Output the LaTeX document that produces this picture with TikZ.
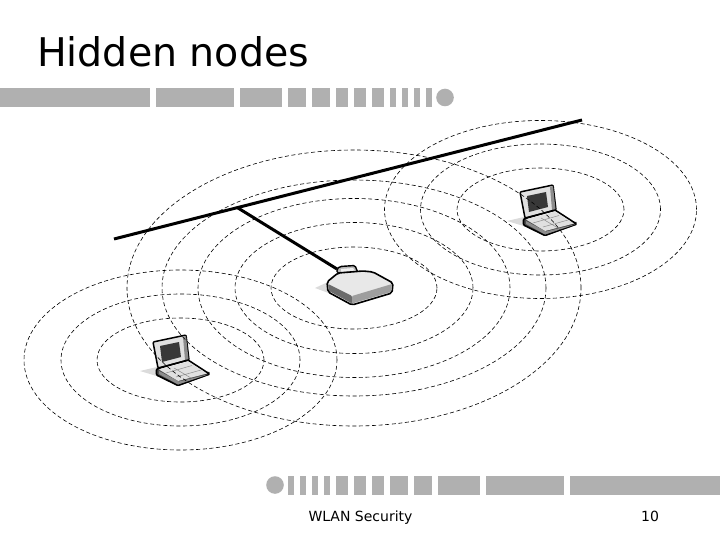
\documentclass[tikz,border=0pt]{standalone}
\usepackage{fontspec}
\setmainfont{DejaVu Sans}
\definecolor{barGray}{HTML}{B0B0B0}
\tikzset{
  laptop/.pic={
    \fill[black!14] (-40,11) -- (-23,7) -- (-20,17) -- cycle;
    % lid
    \draw[black,line width=1.5pt,line join=round,rounded corners=1pt,fill=black!12] (-27,-18) -- (6,-25) -- (9,0) -- (-22,8) -- cycle;
    \fill[black!45] (3,-23) -- (6,-24) -- (8.5,-1) -- (5,0) -- cycle;
    \fill[black!78] (-20,-14) -- (-1,-18) -- (1,-3) -- (-18,2) -- cycle;
    % base
    \fill[black!70] (-23.5,9) -- (-23.5,15) -- (-2,26) -- (29.5,15) -- (29.5,12) -- cycle;
    \draw[black,line width=1.6pt,line join=round,rounded corners=1pt] (-23.5,9) -- (8,0) -- (29.5,14) -- (-2,25.5) -- (-23.5,15) -- cycle;
    \fill[black!12] (-21,9.5) -- (8,1.5) -- (27,13.5) -- (-2,21) -- cycle;
    \fill[black!45] (-1,21.5) -- (27,14.5) -- (28,14.5) -- (-2,24.5) -- (-21,14) -- (-21,11) -- cycle;
    \draw[black!45,line width=.5pt] (-14,13) -- (12,5.5) (-4,17) -- (21,10) (-6,8) -- (11,18);
  },
  accesspoint/.pic={
    \fill[black!14] (-45,1) -- (-32,-5) -- (-30,5) -- (-18,11) -- cycle;
    \draw[black,line width=1.4pt,line join=round,rounded corners=1.5pt,fill=black!28] (-23,-14) -- (-23,-18) -- (-20,-20.5) -- (-5,-21.5) -- (-2,-14) -- cycle;
    \fill[black!6] (-19,-18) -- (-7,-19) -- (-5,-16) -- (-19,-15) -- cycle;
    \draw[black,line width=1.6pt,line join=round,rounded corners=2pt,fill=black!9] (-33,-5) -- (-22,-14) -- (3,-16) -- (13,-15) -- (33,-4) -- (32,6) -- (-8,18) -- (-32,5) -- cycle;
    \fill[black!58,rounded corners=1pt] (-32,-3) -- (-8,9) -- (-8,16.5) -- (-31,4) -- cycle;
    \fill[black!38,rounded corners=1pt] (-8,9) -- (32,-3) -- (31,5) -- (-8,16.5) -- cycle;
  }
}
\begin{document}
\begin{tikzpicture}[x=1pt,y=-1pt]
    \tikzstyle{ring}=[draw=black,line width=.6pt,dash pattern=on 4pt off 2.6pt]
    \tikzstyle{cable}=[draw=black,line width=3pt]
    \tikzstyle{bar}=[fill=barGray]
    \useasboundingbox[fill=white] (0,0) rectangle (720,540);
    % title and footer
    \node [font=\fontsize{39.5}{44}\selectfont,anchor=base west,inner sep=0pt] (title) at (37,67) {Hidden nodes};
    \node [font=\fontsize{14}{16}\selectfont,anchor=base,inner sep=0pt] (footer) at (360.5,521) {WLAN Security};
    \node [font=\fontsize{14}{16}\selectfont,anchor=base,inner sep=0pt] (page) at (650,521) {10};
    % bars
    \foreach \a/\b in {0/150,156/234,240/282,288/306,312/330,336/348,354/366,372/384,390/396,402/408,414/420,426/432}
        \path[bar] (\a,88) rectangle (\b,107);
    \path[bar] (445,97.5) circle (8.8);
    \foreach \a/\b in {288/294,300/306,312/318,324/330,336/348,354/366,372/384,390/408,414/432,438/480,486/564,570/720}
        \path[bar] (\a,476) rectangle (\b,495);
    \path[bar] (275,485) circle (8.8);
    % devices under the rings
    \pic at (547,210) {laptop};
    \pic at (180,360) {laptop};
    % rings
    \foreach \rx/\ry in {227/138,192/108,156/89.5,119/65.5,83/41}
        \path[ring] (354,288) ellipse (\rx pt and \ry pt);
    \foreach \rx/\ry in {156/89,120/65.5,83.5/41.5}
        \path[ring] (540.5,209.5) ellipse (\rx pt and \ry pt);
    \foreach \rx/\ry in {156.5/90,119.5/66,83.5/42}
        \path[ring] (180.5,360) ellipse (\rx pt and \ry pt);
    % cables
    \coordinate (wireA) at (114,239);
    \coordinate (wireB) at (582,120);
    \coordinate (wireT) at (238,208);
    \coordinate (apTop) at (337,269);
    \path[cable] (wireA) -- (wireB);
    \path[cable] (wireT) -- (apTop);
    \pic at (360,287) {accesspoint};
\end{tikzpicture}
\end{document}
